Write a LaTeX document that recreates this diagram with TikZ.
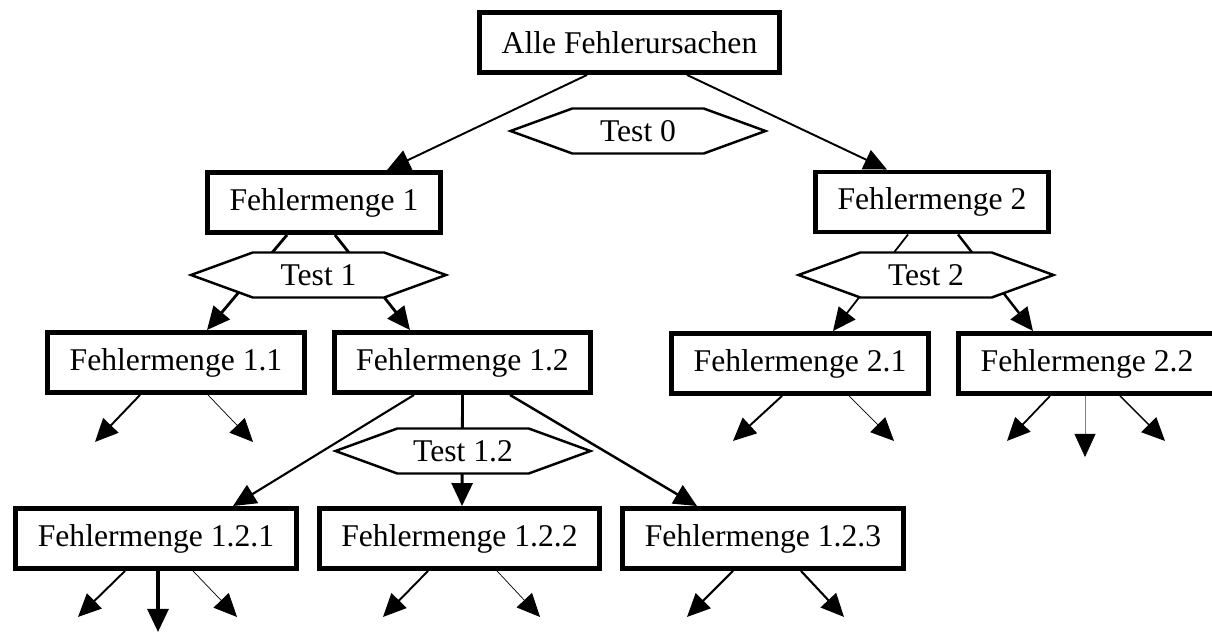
\documentclass[tikz,border=0pt]{standalone}
\usepackage{fontspec}
\setmainfont{Liberation Serif}
\usetikzlibrary{arrows.meta,shapes.symbols}
\begin{document}
\begin{tikzpicture}[
	freccia/.style={-{Triangle[length=0.46cm,width=0.42cm,color=black]}},
	insieme/.style={draw, line width=2.8pt, inner xsep=0.44cm, minimum height=1.2cm,
		font=\fontsize{18}{21}\selectfont},
	esagono/.style={signal, signal to=west and east, signal pointer angle=40,
		draw, fill=white, line width=1.4pt, minimum width=5.1cm, minimum height=0.9cm,
		inner sep=0pt, font=\fontsize{18}{21}\selectfont},
	]
	% ── Cornice ──
	\useasboundingbox (0,0) rectangle (24.24,-12.68);
	% ── Foglia: freccia verso un estremo libero ──
	\def\foglia#1#2#3#4#5{%
		\coordinate (#2) at ([xshift=#3, shift={(#4)}]#1.south);
		\draw[freccia, #5] ([xshift=#3]#1.south) -- (#2);}
	
	% ===================== insiemi di errori =====================
	\node[insieme] (alle) at (12.59,-0.85) {Alle Fehlerursachen};
	\node[insieme] (f1) at (6.48,-4.05) {Fehlermenge 1};
	\node[insieme] (f2) at (18.64,-4.04) {Fehlermenge 2};
	\node[insieme] (f11) at (3.52,-7.25) {Fehlermenge 1.1};
	\node[insieme] (f12) at (9.25,-7.25) {Fehlermenge 1.2};
	\node[insieme] (f21) at (16.0,-7.27) {Fehlermenge 2.1};
	\node[insieme] (f22) at (21.74,-7.27) {Fehlermenge 2.2};
	\node[insieme] (f121) at (3.12,-10.77) {Fehlermenge 1.2.1};
	\node[insieme] (f122) at (9.19,-10.77) {Fehlermenge 1.2.2};
	\node[insieme] (f123) at (15.26,-10.77) {Fehlermenge 1.2.3};
	
	% ===================== rami =====================
	\draw[freccia, line width=1.1pt] ([xshift=-0.85cm]alle.south) -- ([xshift=1.26cm]f1.north);
	\draw[freccia, line width=1.1pt] ([xshift=1.15cm]alle.south) -- ([xshift=-0.9cm]f2.north);
	\draw[freccia, line width=1.6pt] ([xshift=-0.74cm]f1.south) -- ([xshift=0.62cm]f11.north);
	\draw[freccia, line width=1.6pt] ([xshift=0.22cm]f1.south) -- ([xshift=-1.05cm]f12.north);
	\draw[freccia, line width=1pt] ([xshift=-0.48cm]f2.south) -- ([xshift=0.66cm]f21.north);
	\draw[freccia, line width=1.4pt] ([xshift=0.52cm]f2.south) -- ([xshift=-1.08cm]f22.north);
	\draw[freccia, line width=1.2pt] ([xshift=-0.97cm]f12.south) -- ([xshift=1.54cm]f121.north);
	\draw[freccia, line width=1.6pt] (f12.south) -- ([xshift=0.05cm]f122.north);
	\draw[freccia, line width=1.4pt] ([xshift=0.95cm]f12.south) -- ([xshift=-1.32cm]f123.north);
	
	% ── foglie aperte ──
	\foglia{f11}{f11a}{-0.72cm}{-0.9,-0.94}{line width=1.1pt}
	\foglia{f11}{f11b}{0.64cm}{0.9,-0.94}{line width=0.4pt}
	\foglia{f21}{f21a}{-0.36cm}{-0.98,-0.9}{line width=1.1pt}
	\foglia{f21}{f21b}{0.98cm}{0.9,-0.9}{line width=0.4pt}
	\foglia{f22}{f22a}{-0.74cm}{-0.86,-0.9}{line width=1pt}
	\foglia{f22}{f22b}{-0.04cm}{0,-1.22}{line width=0.3pt, draw=gray}
	\foglia{f22}{f22c}{0.66cm}{0.9,-0.9}{line width=0.8pt}
	\foglia{f121}{f121a}{-0.62cm}{-0.94,-0.92}{line width=1.1pt}
	\foglia{f121}{f121b}{0.04cm}{0,-1.22}{line width=1.8pt}
	\foglia{f121}{f121c}{0.74cm}{0.88,-0.92}{line width=0.4pt}
	\foglia{f122}{f122a}{-0.63cm}{-0.9,-0.92}{line width=1.1pt}
	\foglia{f122}{f122b}{0.75cm}{0.86,-0.92}{line width=0.4pt}
	\foglia{f123}{f123a}{-0.6cm}{-0.92,-0.92}{line width=1.2pt}
	\foglia{f123}{f123b}{0.76cm}{0.86,-0.92}{line width=1.2pt}
	
	% ===================== test (sopra i rami) =====================
	\node[esagono] (t0) at (12.76,-2.62) {Test 0};
	\node[esagono] (t1) at (6.37,-5.5) {Test 1};
	\node[esagono] (t2) at (18.52,-5.5) {Test 2};
	\node[esagono] (t12) at (9.26,-9.02) {Test 1.2};
	
\end{tikzpicture}
\end{document}
